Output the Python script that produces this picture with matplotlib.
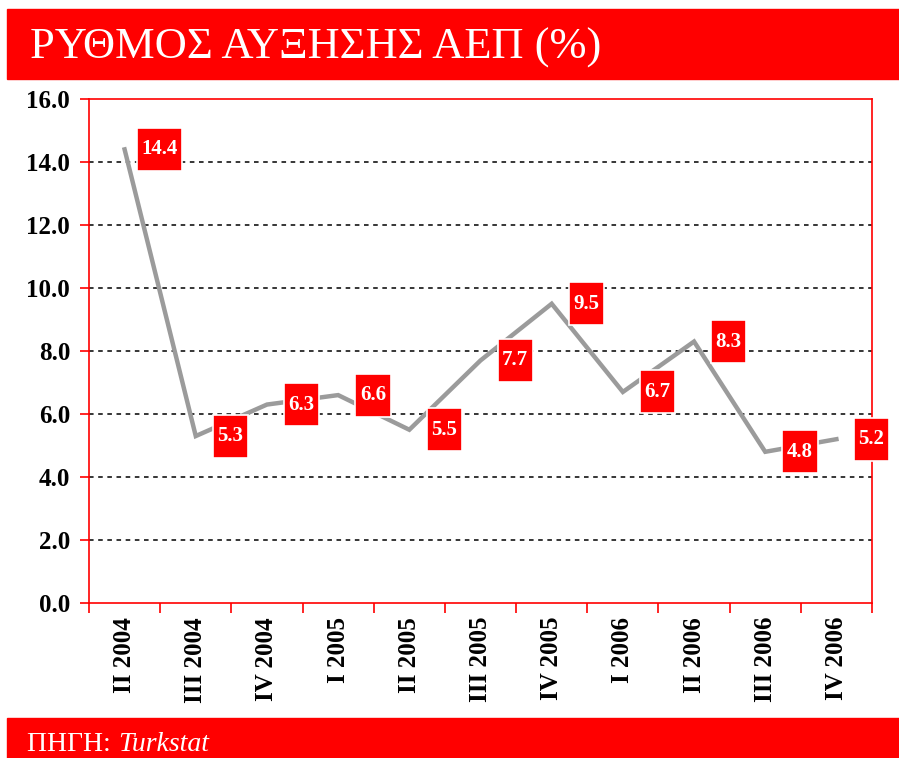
"""GDP growth rate chart (quarterly, %), red title/footer bars."""

import matplotlib

matplotlib.use("Agg")
import matplotlib.pyplot as plt
from matplotlib.patches import Rectangle
from matplotlib.path import Path

quarters = [
    "II 2004", "III 2004", "IV 2004",
    "I 2005", "II 2005", "III 2005", "IV 2005",
    "I 2006", "II 2006", "III 2006", "IV 2006",
]
growth = [14.4, 5.3, 6.3, 6.6, 5.5, 7.7, 9.5, 6.7, 8.3, 4.8, 5.2]
y_ticks = [0, 2, 4, 6, 8, 10, 12, 14, 16]

title_text = "ΡΥΘΜΟΣ ΑΥΞΗΣΗΣ ΑΕΠ (%)"
source_prefix = "ΠΗΓΗ: "
source_name = "Turkstat"

RED = "#ff0000"
LINE_GRAY = "#9b9b9b"
SERIF = ["Liberation Serif", "DejaVu Serif"]

W, H = 899, 758


def tag_box(x0, y0, width, height, mutation_size):
    # value tags: narrow on the sides, tall above/below the digits
    px = 0.22 * mutation_size
    py = 0.55 * mutation_size
    verts = [
        (x0 - px, y0 - py),
        (x0 + width + px, y0 - py),
        (x0 + width + px, y0 + height + py),
        (x0 - px, y0 + height + py),
        (x0 - px, y0 - py),
    ]
    return Path(verts, closed=True)


fig = plt.figure(figsize=(W / 100, H / 100), dpi=100)
fig.patch.set_facecolor("white")

# title and footer bars
fig.add_artist(Rectangle((7 / W, 1 - 79 / H), 1 - 7 / W, 70 / H,
                         transform=fig.transFigure, color=RED, zorder=0))
fig.add_artist(Rectangle((7 / W, 0), 1 - 7 / W, 40 / H,
                         transform=fig.transFigure, color=RED, zorder=0))
fig.text(30 / W, 1 - 59 / H, title_text, color="white", fontsize=32,
         family=SERIF, va="baseline", ha="left")
src = fig.text(27 / W, 1 - 751 / H, source_prefix, color="white", fontsize=20,
               family=SERIF, va="baseline", ha="left")

ax = fig.add_axes([89 / W, 1 - 603 / H, (872 - 89) / W, (603 - 99) / H])
positions = list(range(len(quarters)))
ax.plot(positions, growth, color=LINE_GRAY, lw=3.2, zorder=3,
        solid_joinstyle="miter")

for pos, val in zip(positions, growth):
    ax.annotate(f"{val:.1f}", xy=(pos, val), xytext=(25, 0),
                textcoords="offset points", ha="center", va="center",
                color="white", fontsize=15, fontweight="bold", family=SERIF,
                bbox=dict(boxstyle=tag_box, facecolor=RED, edgecolor="white",
                          linewidth=1.2),
                zorder=5, annotation_clip=False)

ax.set_xlim(-0.5, len(quarters) - 0.5)
ax.set_ylim(0, 16)
ax.set_yticks(y_ticks)
ax.set_yticklabels([f"{t:.1f}" for t in y_ticks])
ax.set_xticks(positions)
ax.set_xticklabels(quarters, rotation=90)
ax.set_xticks([p - 0.5 for p in range(len(quarters) + 1)], minor=True)

ax.tick_params(axis="x", which="major", length=0, pad=10)
ax.tick_params(axis="x", which="minor", length=7, width=1.2, color=RED)
ax.tick_params(axis="y", length=6.5, width=1.2, color=RED, pad=7)
for lab in ax.get_xticklabels() + ax.get_yticklabels():
    lab.set_family(SERIF)
    lab.set_fontweight("bold")
    lab.set_fontsize(18)

for spine in ax.spines.values():
    spine.set_color(RED)
    spine.set_linewidth(1.2)

for t in y_ticks[1:-1]:
    ax.axhline(t, color="black", lw=1.1, ls=(0, (3, 3)), zorder=1)

ax.annotate(source_name, xy=(1, 0), xycoords=src, xytext=(0, 0),
            textcoords="offset points", ha="left", va="bottom",
            color="white", fontsize=20, family=SERIF, style="italic")

fig.savefig("out.png", dpi=100)
